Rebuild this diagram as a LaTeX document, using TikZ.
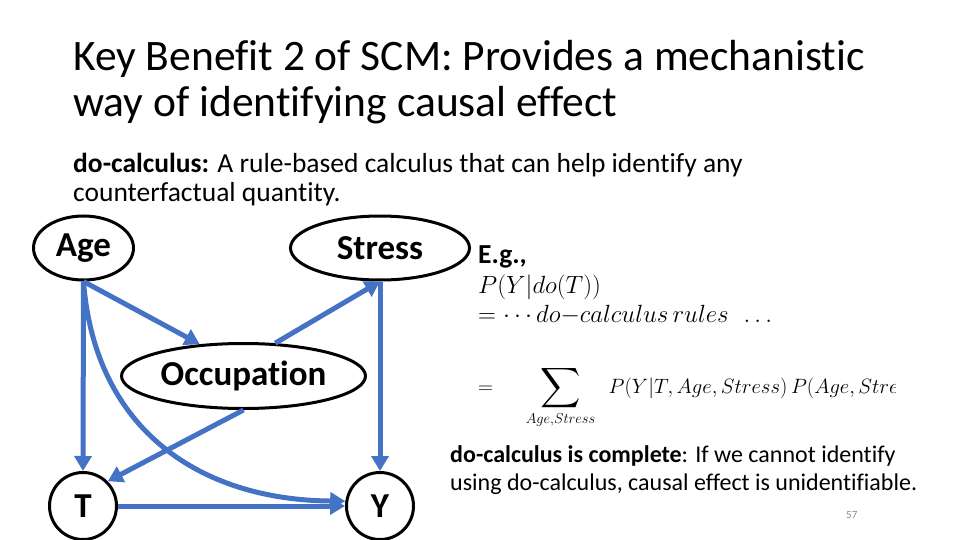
\documentclass[tikz,border=0pt]{standalone}
\usepackage{amsmath}
\usepackage{fontspec}
\setmainfont{Carlito}[Ligatures={NoCommon}]
\usetikzlibrary{arrows.meta,shapes.geometric}
\definecolor{causalblue}{HTML}{4472C4}
\definecolor{pagegray}{HTML}{898989}
\newcommand{\bigsumop}{\mathop{\vcenter{\hbox{\scalebox{1.35}{$\displaystyle\sum$}}}}}
\tikzset{
  var/.style={draw=black, line width=3pt, ellipse, inner sep=0pt, font=\fontsize{35}{40}\selectfont\bfseries},
  causal/.style={draw=causalblue, line width=5pt, -{Triangle[length=15pt,width=17pt]}},
  txt/.style={anchor=base west, inner sep=0pt},
}

\begin{document}
\begin{tikzpicture}[x=1pt,y=-1pt]
	\useasboundingbox (0,0) rectangle (960,540);
	% title and intro text
	\node[txt, font=\fontsize{43.5}{48}\selectfont] (title1) at (73,71) {Key Benefit 2 of SCM: Provides a mechanistic};
	\node[txt, font=\fontsize{43.5}{48}\selectfont] (title2) at (73,117) {way of identifying causal effect};
	\node[txt, font=\fontsize{27.5}{32}\selectfont] (intro1) at (73,172) {\textbf{do-calculus:} A rule-based calculus that can help identify any};
	\node[txt, font=\fontsize{27.5}{32}\selectfont] (intro2) at (73,201) {counterfactual quantity.};
	% causal graph
	\node[var, minimum width=100pt, minimum height=64pt] (age) at (83.5,248) {Age};
	\node[var, minimum width=179pt, minimum height=64pt] (stress) at (380,248) {Stress};
	\node[var, minimum width=244pt, minimum height=65pt] (occ) at (243.5,376) {Occupation};
	\node[var, circle, minimum size=67pt] (t) at (83,506) {T};
	\node[var, circle, minimum size=67pt] (y) at (380,506) {Y};
	\draw[causal] (age.south) -- (t.north);
	\draw[causal] (age.south) -- (occ.144);
	\draw[causal] (occ.46) -- (stress.south);
	\draw[causal] (stress.south) -- (y.north);
	\draw[causal] (occ.south) -- (t.45);
	\draw[causal] (t.east) -- (y.west);
	\draw[causal] (age.south) .. controls (95,430) and (200,500) .. (y.172);
	% example derivation
	\node[txt, font=\fontsize{27.5}{32}\selectfont\bfseries] (eg) at (478,263) {E.g.,};
	\node[txt, font=\fontsize{25}{30}\selectfont] (eq1) at (478,293) {$P(Y|do(T))$};
	\node[txt, font=\fontsize{24}{29}\selectfont] (eq2) at (478,322) {$=\cdots do{-}calculus\,rules\ \ \ldots$};
	\begin{scope}
		\clip (470,340) rectangle (895,440);
		\node[txt, font=\fontsize{22}{26}\selectfont] (eq3) at (478,393) {$\displaystyle =\quad\ \bigsumop\limits_{Age,Stress}\ \ P(Y|T,Age,Stress)\,P(Age,Stress)$};
	\end{scope}
	% completeness remark
	\node[txt, font=\fontsize{24}{29}\selectfont] (rem1) at (450,462) {\textbf{do-calculus is complete}: If we cannot identify};
	\node[txt, font=\fontsize{24}{29}\selectfont] (rem2) at (450,490) {using do-calculus, causal effect is unidentifiable.};
	\node[txt, font=\fontsize{11}{13}\selectfont, text=pagegray] (page) at (846,518) {57};
\end{tikzpicture}
\end{document}
